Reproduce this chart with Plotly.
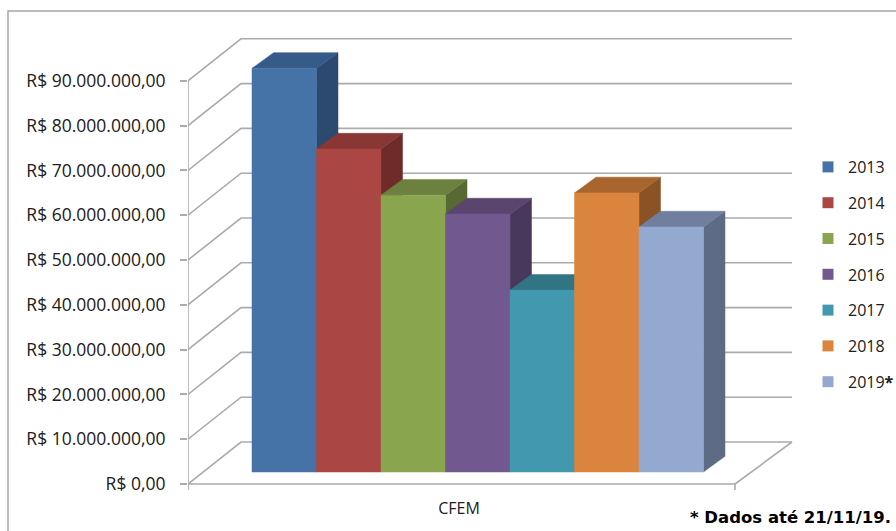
import plotly.graph_objects as go

# ---------------- data ----------------
category = "CFEM"
years = ["2013", "2014", "2015", "2016", "2017", "2018", "2019"]
legend_labels = ["2013", "2014", "2015", "2016", "2017", "2018", "2019<b>*</b>"]
values = [90.1e6, 72.1e6, 61.8e6, 57.6e6, 40.6e6, 62.3e6, 54.7e6]
tick_values = [0, 10e6, 20e6, 30e6, 40e6, 50e6, 60e6, 70e6, 80e6, 90e6]
tick_labels = ["R$ 0,00", "R$ 10.000.000,00", "R$ 20.000.000,00", "R$ 30.000.000,00",
               "R$ 40.000.000,00", "R$ 50.000.000,00", "R$ 60.000.000,00",
               "R$ 70.000.000,00", "R$ 80.000.000,00", "R$ 90.000.000,00"]
note_text = "* Dados até 21/11/19."

front_colors = ["#4572A7", "#AA4643", "#89A54E", "#71588F", "#4198AF", "#DB843D", "#93A9CF"]
top_colors = ["#375B88", "#883734", "#6C803F", "#5A456F", "#317585", "#A9652E", "#707F9E"]
side_colors = ["#2C4A70", "#6E2B29", "#586A31", "#48395C", "#2E6A7A", "#8A5225", "#5D6B85"]

# ---------------- geometry (pixels) ----------------
W, H = 896, 531
PLOT_L, PLOT_R, PLOT_T, PLOT_B = 188, 800, 30, 492
ZERO_PX = 484
PX_PER_10M = 44.8
YU = 1e7 / PX_PER_10M          # value units per pixel

WALL_DX, WALL_DY = 53, 42 * YU  # depth of the box
GRID_RIGHT = 792
FLOOR_RIGHT = 735
BAR_X0, BAR_W = 252, 64.5
BAR_OFF_Y = 12 * YU             # front face of bars sits slightly back
BAR_DX, BAR_DY = 21.5, 15.7 * YU
GRID_COLOR = "#ababab"
FONT = "Open Sans"


def xp(px):
    return (px - PLOT_L) / (PLOT_R - PLOT_L)


def yp(py):
    return (PLOT_B - py) / (PLOT_B - PLOT_T)


fig = go.Figure()

# back wall gridlines + side wall diagonals
gx, gy = [], []
for v in tick_values:
    gx += [PLOT_L, PLOT_L + WALL_DX, GRID_RIGHT, None]
    gy += [v, v + WALL_DY, v + WALL_DY, None]
# front vertical axis
gx += [PLOT_L, PLOT_L, None]
gy += [0, tick_values[-1], None]
# floor front edge and right edge, small ticks
gx += [PLOT_L, PLOT_L, FLOOR_RIGHT, FLOOR_RIGHT, None, FLOOR_RIGHT, FLOOR_RIGHT + WALL_DX + 4]
gy += [-6 * YU, 0, 0, -6 * YU, None, 0, WALL_DY]
fig.add_trace(go.Scatter(x=gx, y=gy, mode="lines", line=dict(color=GRID_COLOR, width=1.6),
                         hoverinfo="skip", showlegend=False))

# bars: side, top, front for each (left to right for occlusion)
for i, (yr, v) in enumerate(zip(years, values)):
    x0 = BAR_X0 + i * BAR_W
    x1 = x0 + BAR_W
    yb = BAR_OFF_Y
    yt = BAR_OFF_Y + v
    # side face
    fig.add_trace(go.Scatter(
        x=[x1, x1 + BAR_DX, x1 + BAR_DX, x1, x1],
        y=[yb, yb + BAR_DY, yt + BAR_DY, yt, yb],
        fill="toself", fillcolor=side_colors[i], mode="lines",
        line=dict(color=side_colors[i], width=0.5), hoverinfo="skip", showlegend=False))
    # top face
    fig.add_trace(go.Scatter(
        x=[x0, x1, x1 + BAR_DX, x0 + BAR_DX, x0],
        y=[yt, yt, yt + BAR_DY, yt + BAR_DY, yt],
        fill="toself", fillcolor=top_colors[i], mode="lines",
        line=dict(color=top_colors[i], width=0.5), hoverinfo="skip", showlegend=False))
    # front face
    fig.add_trace(go.Scatter(
        x=[x0, x1, x1, x0, x0],
        y=[yb, yb, yt, yt, yb],
        fill="toself", fillcolor=front_colors[i], mode="lines",
        line=dict(color=front_colors[i], width=0.5), name=yr,
        hovertemplate=yr + ": R$ %{customdata:,.2f}<extra></extra>",
        customdata=[v] * 5, showlegend=False))

# legend entries
for i, lab in enumerate(legend_labels):
    fig.add_trace(go.Scatter(x=[None], y=[None], mode="markers", name=lab,
                             legendgroup=years[i],
                             marker=dict(symbol="square", size=11, color=front_colors[i])))

fig.update_layout(
    width=W, height=H,
    margin=dict(l=PLOT_L, r=W - PLOT_R, t=PLOT_T, b=H - PLOT_B, autoexpand=False),
    paper_bgcolor="white", plot_bgcolor="white",
    font=dict(family=FONT, size=16, color="#202020"),
    showlegend=True,
    legend=dict(x=xp(808), y=yp(150), xanchor="left", yanchor="top",
                font=dict(family=FONT, size=16, color="#202020"),
                tracegroupgap=12, bgcolor="rgba(0,0,0,0)", borderwidth=0),
    xaxis=dict(range=[PLOT_L, PLOT_R], showgrid=False, zeroline=False, showline=False,
               tickvals=[459], ticktext=[category], ticks="", automargin=False,
               tickfont=dict(family=FONT, size=16, color="#202020"),
               ticklabelstandoff=5, fixedrange=True),
    yaxis=dict(range=[-(PLOT_B - ZERO_PX) * YU, (ZERO_PX - PLOT_T) * YU],
               showgrid=False, zeroline=False, showline=False,
               tickvals=tick_values, ticktext=tick_labels, ticks="outside",
               ticklen=7, tickwidth=1.6, tickcolor=GRID_COLOR, automargin=False,
               ticklabelstandoff=11,
               tickfont=dict(family=FONT, size=17.5, color="#202020"), fixedrange=True),
    shapes=[dict(type="rect", xref="paper", yref="paper",
                 x0=xp(8), x1=xp(1000), y0=yp(700), y1=yp(11),
                 line=dict(color="#a6a6a6", width=1.5), fillcolor="rgba(0,0,0,0)",
                 layer="below")],
    annotations=[dict(text="<b>" + note_text + "</b>", xref="paper", yref="paper",
                      x=xp(893), y=yp(517), xanchor="right", yanchor="middle",
                      showarrow=False,
                      font=dict(family="DejaVu Sans", size=16.5, color="#000000"))],
)

fig.write_html("out.html")
